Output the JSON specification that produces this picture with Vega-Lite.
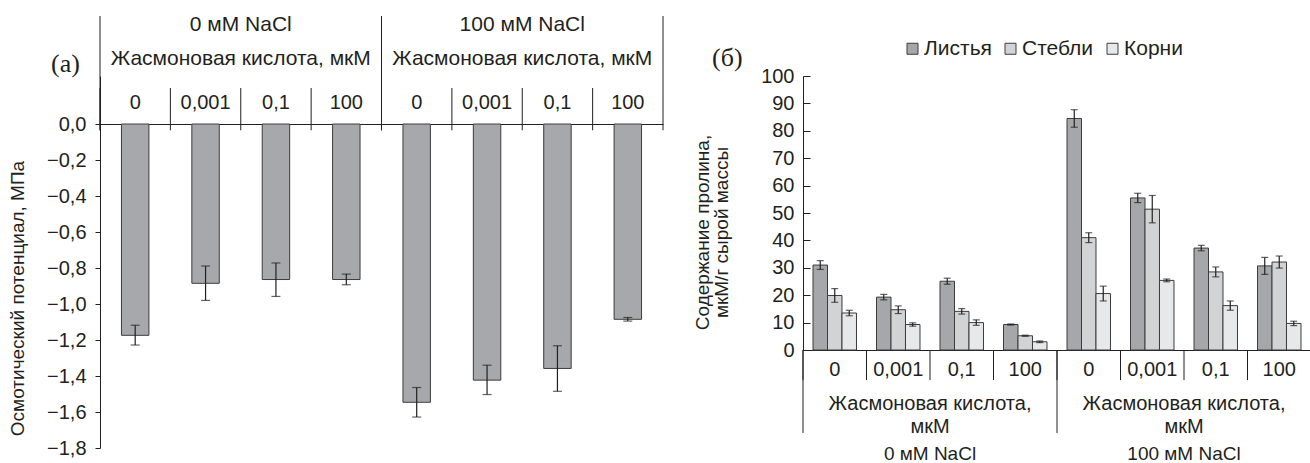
{
  "$schema": "https://vega.github.io/schema/vega-lite/v6.json",
  "background": "white",
  "padding": {"left": 8, "top": 13, "right": 0, "bottom": 0},
  "bounds": "flush",
  "spacing": 140,
  "resolve": {"legend": {"color": "independent"}, "scale": {"color": "independent"}},
  "config": {
    "font": "Liberation Sans",
    "view": {"stroke": null},
    "axis": {
      "labelFont": "Liberation Sans",
      "titleFont": "Liberation Sans",
      "labelFontSize": 20,
      "titleFontSize": 19,
      "labelColor": "#231f20",
      "titleColor": "#231f20",
      "domainColor": "#231f20",
      "tickColor": "#231f20",
      "titleFontWeight": "normal",
      "grid": false,
      "labelAngle": 0,
      "labelLimit": 400,
      "labelOverlap": false
    },
    "legend": {
      "labelFont": "Liberation Sans",
      "labelFontSize": 21,
      "labelColor": "#231f20",
      "labelLimit": 400
    }
  },
  "hconcat": [
    {
      "width": 563,
      "height": 372,
      "title": {
        "text": "(a)",
        "orient": "none",
        "anchor": "start",
        "font": "Liberation Serif",
        "fontSize": 26,
        "fontWeight": "normal",
        "color": "#231f20",
        "dx": -49,
        "dy": -25
      },
      "layer": [
        {
          "data": {
            "values": [
              {"nacl": "0 мМ NaCl", "k": "A|0", "v": -1.174, "lo": -1.228, "hi": -1.118},
              {"nacl": "0 мМ NaCl", "k": "A|0,001", "v": -0.885, "lo": -0.98, "hi": -0.789},
              {"nacl": "0 мМ NaCl", "k": "A|0,1", "v": -0.864, "lo": -0.958, "hi": -0.772},
              {"nacl": "0 мМ NaCl", "k": "A|100", "v": -0.864, "lo": -0.893, "hi": -0.834},
              {"nacl": "100 мМ NaCl", "k": "B|0", "v": -1.546, "lo": -1.628, "hi": -1.464},
              {"nacl": "100 мМ NaCl", "k": "B|0,001", "v": -1.423, "lo": -1.503, "hi": -1.34},
              {"nacl": "100 мМ NaCl", "k": "B|0,1", "v": -1.358, "lo": -1.485, "hi": -1.232},
              {"nacl": "100 мМ NaCl", "k": "B|100", "v": -1.085, "lo": -1.095, "hi": -1.075}
            ]
          },
          "layer": [
            {
              "mark": {"type": "bar", "width": {"band": 0.39}, "fill": "#a7a8ac", "stroke": "#3c3c3c", "strokeWidth": 1},
              "encoding": {
                "x": {
                  "field": "k", "type": "nominal",
                  "scale": {"paddingInner": 0, "paddingOuter": 0},
                  "axis": {
                    "orient": "top", "offset": -48, "title": null,
                    "labelExpr": "split(datum.label, '|')[1]",
                    "ticks": false, "tickSize": 0, "domain": true, "domainWidth": 1.2,
                    "labelPadding": 12
                  }
                },
                "y": {
                  "field": "v", "type": "quantitative",
                  "scale": {"domain": [-1.8, 0.26667], "nice": false, "zero": false},
                  "axis": {
                    "values": [0, -0.2, -0.4, -0.6, -0.8, -1, -1.2, -1.4, -1.6, -1.8],
                    "labelExpr": "replace(replace(format(datum.value, '.1f'), '.', ','), '-', '\u2212')",
                    "labelOverlap": false,
                    "tickSize": 5, "labelPadding": 9,
                    "title": "Осмотический потенциал, МПа",
                    "titlePadding": 19, "titleY": 222
                  }
                },
                "y2": {"datum": 0}
              }
            },
            {
              "mark": {"type": "rule", "color": "#231f20", "strokeWidth": 1.2},
              "encoding": {
                "x": {"field": "k", "type": "nominal"},
                "y": {"field": "lo", "type": "quantitative"},
                "y2": {"field": "hi"}
              }
            },
            {
              "mark": {"type": "tick", "color": "#231f20", "size": 9, "thickness": 1.2},
              "encoding": {
                "x": {"field": "k", "type": "nominal"},
                "y": {"field": "lo", "type": "quantitative"}
              }
            },
            {
              "mark": {"type": "tick", "color": "#231f20", "size": 9, "thickness": 1.2},
              "encoding": {
                "x": {"field": "k", "type": "nominal"},
                "y": {"field": "hi", "type": "quantitative"}
              }
            },
            {
              "mark": {"type": "rule", "color": "#231f20", "strokeWidth": 1},
              "encoding": {
                "x": {"field": "k", "type": "nominal", "bandPosition": 0},
                "y": {"datum": 0.2},
                "y2": {"datum": -0.035}
              }
            }
          ]
        },
        {
          "data": {"values": [{"nacl": "0 мМ NaCl"}, {"nacl": "100 мМ NaCl"}]},
          "layer": [
            {
              "mark": {"type": "rule", "color": "#231f20", "strokeWidth": 1},
              "encoding": {
                "x": {
                  "field": "nacl", "type": "nominal", "bandPosition": 0,
                  "scale": {"paddingInner": 0, "paddingOuter": 0},
                  "axis": {
                    "orient": "top", "offset": -48, "title": null,
                    "labelExpr": "[datum.label, 'Жасмоновая кислота, мкМ']",
                    "labelLineHeight": 34,
                    "labelFontSize": 21,
                    "ticks": false, "tickSize": 0, "domain": false,
                    "labelPadding": 90
                  }
                },
                "y": {"datum": 0.6},
                "y2": {"datum": -0.035}
              }
            },
            {
              "transform": [{"filter": "datum.nacl === '100 мМ NaCl'"}],
              "mark": {"type": "rule", "color": "#231f20", "strokeWidth": 1},
              "encoding": {
                "x": {"field": "nacl", "type": "nominal", "bandPosition": 1},
                "y": {"datum": 0.6},
                "y2": {"datum": -0.035}
              }
            }
          ]
        }
      ],
      "resolve": {"scale": {"x": "independent"}, "axis": {"x": "independent"}}
    },
    {
      "width": 508,
      "height": 274,
      "title": {
        "text": "(б)",
        "orient": "none",
        "anchor": "start",
        "font": "Liberation Serif",
        "fontSize": 26,
        "fontWeight": "normal",
        "color": "#231f20",
        "dx": -91,
        "dy": -31
      },
      "layer": [
        {
          "data": {
            "values": [
              {"k": "A|0", "organ": "Листья", "v": 31.0, "lo": 29.4, "hi": 32.6},
              {"k": "A|0", "organ": "Стебли", "v": 19.9, "lo": 17.4, "hi": 22.4},
              {"k": "A|0", "organ": "Корни", "v": 13.5, "lo": 12.5, "hi": 14.5},
              {"k": "A|0,001", "organ": "Листья", "v": 19.3, "lo": 18.3, "hi": 20.3},
              {"k": "A|0,001", "organ": "Стебли", "v": 14.7, "lo": 13.3, "hi": 16.1},
              {"k": "A|0,001", "organ": "Корни", "v": 9.3, "lo": 8.7, "hi": 9.9},
              {"k": "A|0,1", "organ": "Листья", "v": 25.1, "lo": 24.0, "hi": 26.2},
              {"k": "A|0,1", "organ": "Стебли", "v": 14.1, "lo": 13.1, "hi": 15.1},
              {"k": "A|0,1", "organ": "Корни", "v": 10.0, "lo": 9.0, "hi": 11.0},
              {"k": "A|100", "organ": "Листья", "v": 9.3, "lo": 9.1, "hi": 9.5},
              {"k": "A|100", "organ": "Стебли", "v": 5.2, "lo": 5.0, "hi": 5.4},
              {"k": "A|100", "organ": "Корни", "v": 3.0, "lo": 2.7, "hi": 3.3},
              {"k": "B|0", "organ": "Листья", "v": 84.5, "lo": 81.3, "hi": 87.7},
              {"k": "B|0", "organ": "Стебли", "v": 41.0, "lo": 39.2, "hi": 42.8},
              {"k": "B|0", "organ": "Корни", "v": 20.6, "lo": 17.9, "hi": 23.3},
              {"k": "B|0,001", "organ": "Листья", "v": 55.5, "lo": 53.8, "hi": 57.2},
              {"k": "B|0,001", "organ": "Стебли", "v": 51.4, "lo": 46.4, "hi": 56.4},
              {"k": "B|0,001", "organ": "Корни", "v": 25.4, "lo": 24.9, "hi": 25.9},
              {"k": "B|0,1", "organ": "Листья", "v": 37.2, "lo": 36.2, "hi": 38.2},
              {"k": "B|0,1", "organ": "Стебли", "v": 28.5, "lo": 26.7, "hi": 30.3},
              {"k": "B|0,1", "organ": "Корни", "v": 16.2, "lo": 14.5, "hi": 17.9},
              {"k": "B|100", "organ": "Листья", "v": 30.7, "lo": 27.6, "hi": 33.8},
              {"k": "B|100", "organ": "Стебли", "v": 32.1, "lo": 29.9, "hi": 34.3},
              {"k": "B|100", "organ": "Корни", "v": 9.7, "lo": 8.9, "hi": 10.5}
            ]
          },
          "layer": [
            {
              "mark": {"type": "bar", "stroke": "#3c3c3c", "strokeWidth": 1},
              "encoding": {
                "x": {
                  "field": "k", "type": "nominal",
                  "scale": {"paddingInner": 0, "paddingOuter": 0},
                  "axis": {
                    "orient": "bottom", "title": null,
                    "labelExpr": "split(datum.label, '|')[1]",
                    "ticks": false, "tickSize": 0, "domain": true, "domainWidth": 1.2,
                    "labelPadding": 9
                  }
                },
                "xOffset": {
                  "field": "organ", "type": "nominal",
                  "sort": ["Листья", "Стебли", "Корни"],
                  "scale": {"paddingInner": 0, "paddingOuter": 0.69}
                },
                "y": {
                  "field": "v", "type": "quantitative",
                  "scale": {"domain": [0, 100], "nice": false},
                  "axis": {"values": [0, 10, 20, 30, 40, 50, 60, 70, 80, 90, 100], "labelOverlap": false, "tickSize": -7, "labelPadding": 16, "title": ["Содержание пролина,", "мкМ/г сырой массы"], "titleLineHeight": 19, "titlePadding": 29, "titleY": 156}
                },
                "color": {
                  "field": "organ", "type": "nominal",
                  "sort": ["Листья", "Стебли", "Корни"],
                  "scale": {"domain": ["Листья", "Стебли", "Корни"], "range": ["#a6a7ab", "#d2d3d5", "#e7e8e9"]},
                  "legend": {
                    "orient": "none", "legendX": 99, "legendY": -38,
                    "direction": "horizontal", "title": null,
                    "symbolType": "square", "symbolSize": 121,
                    "symbolStrokeColor": "#3c3c3c", "symbolStrokeWidth": 1,
                    "columnPadding": 8, "labelOffset": 1
                  }
                }
              }
            },
            {
              "mark": {"type": "rule", "color": "#231f20", "strokeWidth": 1.2},
              "encoding": {
                "x": {"field": "k", "type": "nominal"},
                "xOffset": {"field": "organ", "type": "nominal", "sort": ["Листья", "Стебли", "Корни"]},
                "y": {"field": "lo", "type": "quantitative", "axis": {"values": [0, 10, 20, 30, 40, 50, 60, 70, 80, 90, 100], "labelOverlap": false, "tickSize": -7, "labelPadding": 16, "title": ["Содержание пролина,", "мкМ/г сырой массы"], "titleLineHeight": 19, "titlePadding": 29, "titleY": 156}},
                "y2": {"field": "hi"}
              }
            },
            {
              "mark": {"type": "tick", "color": "#231f20", "size": 7, "thickness": 1.2},
              "encoding": {
                "x": {"field": "k", "type": "nominal"},
                "xOffset": {"field": "organ", "type": "nominal", "sort": ["Листья", "Стебли", "Корни"]},
                "y": {"field": "lo", "type": "quantitative", "axis": {"values": [0, 10, 20, 30, 40, 50, 60, 70, 80, 90, 100], "labelOverlap": false, "tickSize": -7, "labelPadding": 16, "title": ["Содержание пролина,", "мкМ/г сырой массы"], "titleLineHeight": 19, "titlePadding": 29, "titleY": 156}}
              }
            },
            {
              "mark": {"type": "tick", "color": "#231f20", "size": 7, "thickness": 1.2},
              "encoding": {
                "x": {"field": "k", "type": "nominal"},
                "xOffset": {"field": "organ", "type": "nominal", "sort": ["Листья", "Стебли", "Корни"]},
                "y": {"field": "hi", "type": "quantitative", "axis": {"values": [0, 10, 20, 30, 40, 50, 60, 70, 80, 90, 100], "labelOverlap": false, "tickSize": -7, "labelPadding": 16, "title": ["Содержание пролина,", "мкМ/г сырой массы"], "titleLineHeight": 19, "titlePadding": 29, "titleY": 156}}
              }
            },
            {
              "transform": [{"filter": "datum.organ === 'Листья'"}],
              "mark": {"type": "rule", "color": "#231f20", "strokeWidth": 1},
              "encoding": {
                "x": {"field": "k", "type": "nominal", "bandPosition": 0},
                "y": {"datum": 0, "axis": {"values": [0, 10, 20, 30, 40, 50, 60, 70, 80, 90, 100], "labelOverlap": false, "tickSize": -7, "labelPadding": 16, "title": ["Содержание пролина,", "мкМ/г сырой массы"], "titleLineHeight": 19, "titlePadding": 29, "titleY": 156}},
                "y2": {"datum": -11}
              }
            }
          ]
        },
        {
          "data": {"values": [{"nacl": "0 мМ NaCl"}, {"nacl": "100 мМ NaCl"}]},
          "mark": {"type": "rule", "color": "#231f20", "strokeWidth": 1},
          "encoding": {
            "x": {
              "field": "nacl", "type": "nominal", "bandPosition": 0,
              "scale": {"paddingInner": 0, "paddingOuter": 0},
              "axis": {
                "orient": "bottom", "title": null,
                "labelExpr": "['Жасмоновая кислота,', 'мкМ']",
                "labelLineHeight": 23,
                "ticks": false, "tickSize": 0, "domain": false,
                "labelPadding": 43
              }
            },
            "y": {"datum": 0, "axis": {"values": [0, 10, 20, 30, 40, 50, 60, 70, 80, 90, 100], "labelOverlap": false, "tickSize": -7, "labelPadding": 16, "title": ["Содержание пролина,", "мкМ/г сырой массы"], "titleLineHeight": 19, "titlePadding": 29, "titleY": 156}},
            "y2": {"datum": -30.3}
          }
        },
        {
          "data": {"values": [{"nacl": "0 мМ NaCl"}, {"nacl": "100 мМ NaCl"}]},
          "mark": {"type": "rule", "opacity": 0},
          "encoding": {
            "x": {
              "field": "nacl", "type": "nominal",
              "scale": {"paddingInner": 0, "paddingOuter": 0},
              "axis": {
                "orient": "bottom", "title": null,
                "labelFontSize": 19,
                "ticks": false, "tickSize": 0, "domain": false,
                "labelPadding": 94
              }
            },
            "y": {"datum": 0, "axis": {"values": [0, 10, 20, 30, 40, 50, 60, 70, 80, 90, 100], "labelOverlap": false, "tickSize": -7, "labelPadding": 16, "title": ["Содержание пролина,", "мкМ/г сырой массы"], "titleLineHeight": 19, "titlePadding": 29, "titleY": 156}},
            "y2": {"datum": -1}
          }
        }
      ],
      "resolve": {"scale": {"x": "independent"}, "axis": {"x": "independent"}}
    }
  ]
}
